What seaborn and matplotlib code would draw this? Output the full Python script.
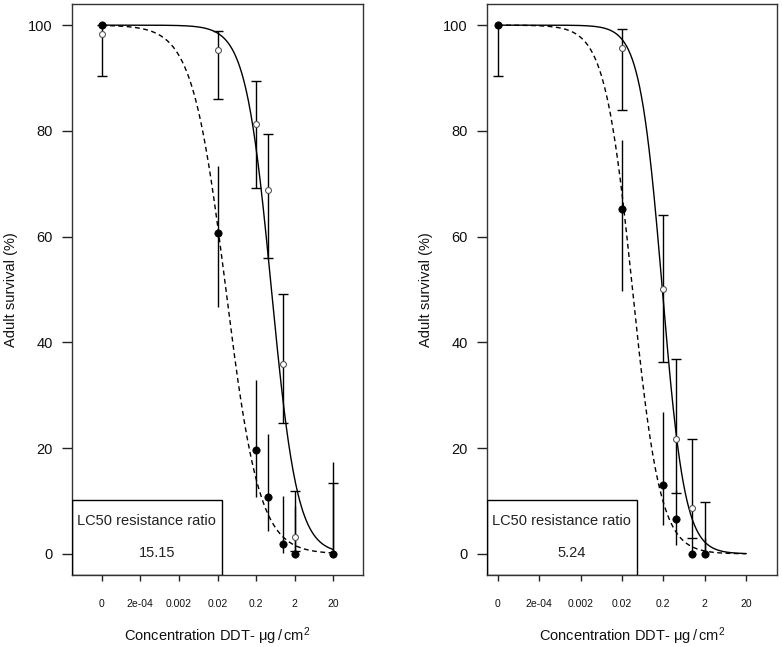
import numpy as np
import pandas as pd
import matplotlib
matplotlib.use("Agg")
import matplotlib.pyplot as plt
from matplotlib.patches import Rectangle
from matplotlib.ticker import NullLocator
import seaborn as sns

# doses (ug/cm2); the control "0" is drawn at 2e-05 on the log axis
ctrl_pos = 2e-05
conc_a = [0, 0.02, 0.2, 0.4, 1, 2, 20]
conc_b = [0, 0.02, 0.2, 0.4, 1, 2]

# panel A - resistant strain (open circles)
res_a = [98.4, 95.3, 81.3, 68.9, 36.0, 3.1, 0.0]
res_a_lo = [90.4, 86.0, 69.2, 55.9, 24.7, 0.6, 0.0]
res_a_hi = [100.0, 98.8, 89.5, 79.4, 49.1, 11.8, 13.4]
# panel A - susceptible strain (filled circles)
sus_a = [100.0, 60.7, 19.6, 10.7, 1.9, 0.0, 0.0]
sus_a_lo = [100.0, 46.7, 10.7, 4.4, 0.2, 0.0, 0.0]
sus_a_hi = [100.0, 73.3, 32.9, 22.6, 11.0, 9.0, 17.3]

# panel B
res_b = [100.0, 95.7, 50.1, 21.7, 8.6, 0.0]
res_b_lo = [90.4, 84.0, 36.2, 11.5, 3.0, 0.0]
res_b_hi = [100.0, 99.2, 64.0, 36.8, 21.7, 9.75]
sus_b = [100.0, 65.2, 13.0, 6.6, 0.0, 0.0]
sus_b_lo = [100.0, 49.8, 5.5, 1.6, 0.0, 0.0]
sus_b_hi = [100.0, 78.2, 26.9, 12.0, 3.0, 3.0]

# fitted log-logistic curves: LC50 and slope
lc50_sus = [0.033, 0.036]
lc50_res = [0.50, 0.189]
slope_sus = [1.0, 1.3]
slope_res = [1.3, 1.6]
ratios = ["15.15", "5.24"]

tick_vals = [2e-05, 2e-04, 0.002, 0.02, 0.2, 2, 20]
tick_labels = ["0", "2e-04", "0.002", "0.02", "0.2", "2", "20"]

sns.set_theme(style="ticks")
plt.rcParams["font.family"] = ["Liberation Sans", "DejaVu Sans"]
plt.rcParams["mathtext.default"] = "regular"

fig = plt.figure(figsize=(7.82, 6.47), dpi=100)
bottom = 1 - 575 / 647
height = 571 / 647
ax_a = fig.add_axes([72 / 782, bottom, 291 / 782, height])
ax_b = fig.add_axes([487.3 / 782, bottom, 290 / 782, height])


def logistic(x, lc50, b):
    return 100.0 / (1.0 + (x / lc50) ** b)


def draw_panel(ax, conc, res, res_lo, res_hi, sus, sus_lo, sus_hi, k, xlim):
    xpos = [ctrl_pos if c == 0 else c for c in conc]
    xs = np.geomspace(ctrl_pos, 20, 400)
    curves = pd.DataFrame({"x": xs,
                           "res": logistic(xs, lc50_res[k], slope_res[k]),
                           "sus": logistic(xs, lc50_sus[k], slope_sus[k])})
    sns.lineplot(data=curves, x="x", y="res", ax=ax, color="black", lw=1.0, zorder=2)
    sns.lineplot(data=curves, x="x", y="sus", ax=ax, color="black", lw=1.0,
                 linestyle=(0, (3.5, 2.5)), zorder=2)

    # error bars: susceptible without caps, resistant with caps
    ax.vlines(xpos, sus_lo, sus_hi, color="black", lw=1.0, zorder=3)
    ax.vlines(xpos, res_lo, res_hi, color="black", lw=1.0, zorder=3)
    cap_x, cap_y = [], []
    for x, m, lo, hi in zip(xpos, res, res_lo, res_hi):
        if lo != m:
            cap_x.append(x); cap_y.append(lo)
        if hi != m:
            cap_x.append(x); cap_y.append(hi)
    ax.plot(cap_x, cap_y, ls="none", marker="_", ms=7, mew=1.0, color="black", zorder=3)

    pts = pd.DataFrame({"x": xpos, "res": res, "sus": sus})
    sns.scatterplot(data=pts, x="x", y="res", ax=ax, color="white",
                    edgecolor="#555555", linewidth=0.8, s=18, zorder=4)
    sns.scatterplot(data=pts, x="x", y="sus", ax=ax, color="black",
                    edgecolor="black", linewidth=0.5, s=28, zorder=5)

    ax.set_xscale("log")
    ax.set_xlim(*xlim)
    ax.set_ylim(-4, 104)
    ax.set_xticks(tick_vals)
    ax.set_xticklabels(tick_labels)
    ax.xaxis.set_minor_locator(NullLocator())
    ax.set_yticks([0, 20, 40, 60, 80, 100])
    ax.tick_params(axis="y", length=7.5, width=1, pad=6.5, labelsize=10.5,
                   color="#222222", labelcolor="#111111")
    ax.tick_params(axis="x", length=4, width=1, pad=13, labelsize=7.5,
                   color="#222222", labelcolor="#111111")
    for sp in ax.spines.values():
        sp.set_visible(True)
        sp.set_linewidth(1.0)
        sp.set_color("#333333")

    ax.set_xlabel(r"Concentration DDT- $\mu$g$\,$/$\,$cm$^2$", fontsize=10.5, color="#111111")
    ax.xaxis.set_label_coords(0.5, -0.088)
    ax.set_ylabel("Adult survival (%)", fontsize=10.5, color="#111111")
    ax.yaxis.set_label_coords(-0.187, 0.5)

    ax.add_patch(Rectangle((0, 0), 0.516, 0.131, transform=ax.transAxes,
                           fill=False, ec="black", lw=1.0, zorder=6))
    ax.text(0.257, 0.095, "LC50 resistance ratio", transform=ax.transAxes,
            ha="center", va="center", fontsize=10.5, color="#222222")
    ax.text(0.291, 0.039, ratios[k], transform=ax.transAxes,
            ha="center", va="center", fontsize=10.5, color="#222222")


draw_panel(ax_a, conc_a, res_a, res_a_lo, res_a_hi, sus_a, sus_a_lo, sus_a_hi, 0,
           (ctrl_pos * 10 ** -0.77, 20 * 10 ** 0.77))
draw_panel(ax_b, conc_b, res_b, res_b_lo, res_b_hi, sus_b, sus_b_lo, sus_b_hi, 1,
           (ctrl_pos * 10 ** -0.25, 20 * 10 ** 0.75))

fig.savefig("out.png", dpi=100)
